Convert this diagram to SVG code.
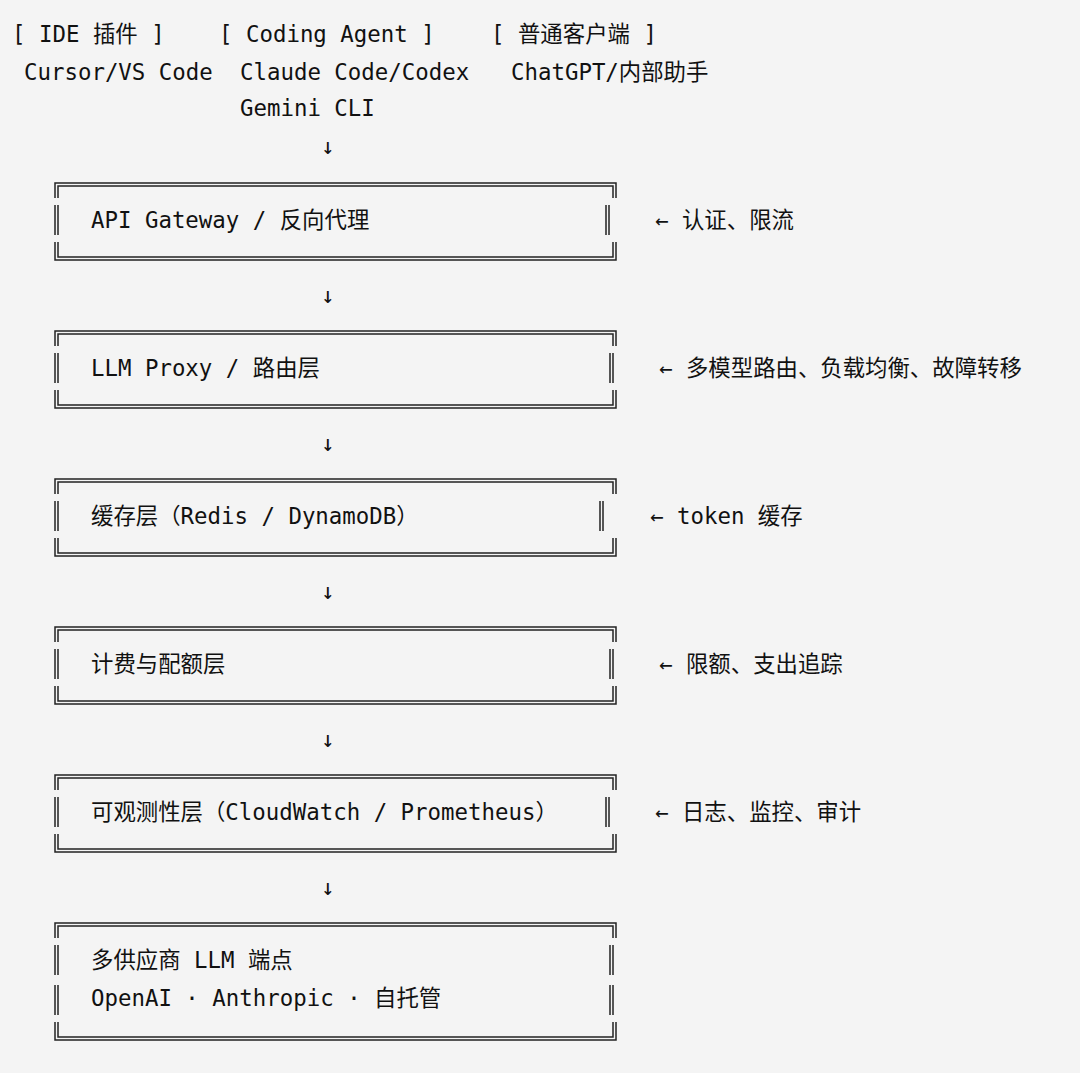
<svg xmlns="http://www.w3.org/2000/svg" width="1080" height="1073" viewBox="0 0 1080 1073">
<style>
text{font-family:"DejaVu Sans Mono","Noto Sans CJK SC",monospace;font-size:22.4px;fill:#111}
.b{fill:none;stroke:#222;stroke-width:1.5}
</style>
<defs>
<g id="frame">
<path class="b" d="M55,198 V183 H616 V198 M58,198 V186 H613 V198 M55,242 V260 H616 V242 M58,242 V257 H613 V242"/>
</g>
</defs>
<rect width="1080" height="1073" fill="#f4f4f4"/>
<g id="clients">
<text x="12" y="42">[ IDE 插件 ]</text>
<text x="219" y="42">[ Coding Agent ]</text>
<text x="491" y="42">[ 普通客户端 ]</text>
<text x="24" y="80">Cursor/VS Code</text>
<text x="240" y="80">Claude Code/Codex</text>
<text x="511" y="80">ChatGPT/内部助手</text>
<text x="240" y="116">Gemini CLI</text>
</g>
<g id="connectors">
<text x="321" y="154">↓</text>
<text x="321" y="303">↓</text>
<text x="321" y="451">↓</text>
<text x="321" y="599">↓</text>
<text x="321" y="747">↓</text>
<text x="321" y="895">↓</text>
</g>
<g id="n1">
<use href="#frame"/>
<path class="b" d="M55,205 V235 M58,205 V235 M606,205 V235 M609,205 V235"/>
<text x="91" y="228">API Gateway / 反向代理</text>
<text x="655" y="228">← 认证、限流</text>
</g>
<g id="n2">
<use href="#frame" y="148"/>
<path class="b" d="M55,353 V383 M58,353 V383 M610,353 V383 M613,353 V383"/>
<text x="91" y="376">LLM Proxy / 路由层</text>
<text x="659" y="376">← 多模型路由、负载均衡、故障转移</text>
</g>
<g id="n3">
<use href="#frame" y="296"/>
<path class="b" d="M55,501 V531 M58,501 V531 M600,501 V531 M603,501 V531"/>
<text x="91" y="524">缓存层（Redis / DynamoDB）</text>
<text x="650" y="524">← token 缓存</text>
</g>
<g id="n4">
<use href="#frame" y="444"/>
<path class="b" d="M55,649 V679 M58,649 V679 M610,649 V679 M613,649 V679"/>
<text x="91" y="672">计费与配额层</text>
<text x="659" y="672">← 限额、支出追踪</text>
</g>
<g id="n5">
<use href="#frame" y="592"/>
<path class="b" d="M55,797 V827 M58,797 V827 M606,797 V827 M609,797 V827"/>
<text x="91" y="820">可观测性层（CloudWatch / Prometheus）</text>
<text x="655" y="820">← 日志、监控、审计</text>
</g>
<g id="n6">
<path class="b" d="M55,938 V923 H616 V938 M58,938 V926 H613 V938 M55,1022 V1040 H616 V1022 M58,1022 V1037 H613 V1022"/>
<path class="b" d="M55,945 V975 M58,945 V975 M610,945 V975 M613,945 V975 M55,985 V1015 M58,985 V1015 M610,985 V1015 M613,985 V1015"/>
<text x="91" y="968">多供应商 LLM 端点</text>
<text x="91" y="1006">OpenAI · Anthropic · 自托管</text>
</g>
</svg>
